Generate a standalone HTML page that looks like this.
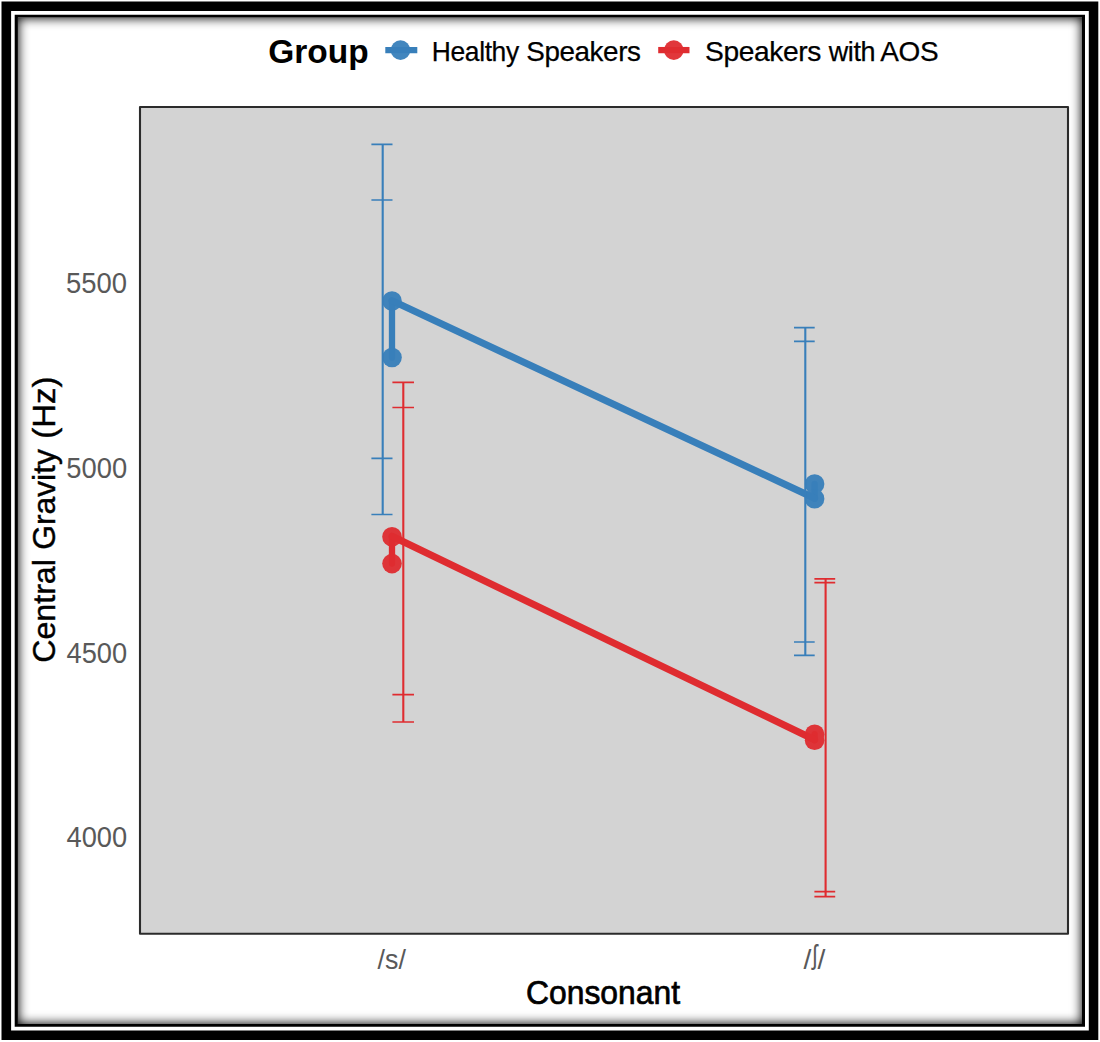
<!DOCTYPE html>
<html>
<head>
<meta charset="utf-8">
<title>Central Gravity by Consonant and Group</title>
<style>
  html, body { margin: 0; padding: 0; background: #fff; }
  body { width: 1100px; height: 1042px; position: relative; overflow: hidden;
         font-family: "Liberation Sans", sans-serif; }
  svg { position: absolute; left: 0; top: 0; }
  text { font-family: "Liberation Sans", sans-serif; }
</style>
</head>
<body>
<svg width="1100" height="1042" viewBox="0 0 1100 1042">
  <defs>
    <filter id="blur" x="-5%" y="-5%" width="110%" height="110%"><feGaussianBlur stdDeviation="5.5"/></filter>
    <clipPath id="innerclip"><rect x="17.9" y="17.6" width="1064.1" height="1006.4"/></clipPath>
  </defs>
  <!-- decorative frame -->
  <g clip-path="url(#innerclip)">
    <path fill="#000" fill-rule="evenodd" filter="url(#blur)" d="M-40 -40H1140V1082H-40Z M18.3 18H1081.6V1023.6H18.3Z"/>
  </g>
  <path fill="#000" fill-rule="evenodd" d="M1.5 1.5H1098.3V1040H1.5Z M11.1 11H1088.8V1030.5H11.1Z"/>
  <path fill="#000" fill-rule="evenodd" d="M14.7 14.7H1085V1026.7H14.7Z M17.9 17.6H1082V1024H17.9Z"/>
  <!-- panel -->
  <rect x="140" y="107" width="928" height="826.8" fill="#d3d3d3" stroke="#2b2b2b" stroke-width="2.1" stroke-linejoin="round"/>

  <!-- lines -->
  <g fill="none" stroke-linecap="round">
    <path stroke="#387fba" stroke-width="6.3" d="M392 357.5V301 M814.6 498.8V484"/>
    <path stroke="#387fba" stroke-width="7.1" d="M392 300.6L814.6 498.3"/>
    <path stroke="#df2c30" stroke-width="6.3" d="M392 563.6V536.7 M814.6 740.2V734.2"/>
    <path stroke="#df2c30" stroke-width="7.1" d="M392 536.3L814.6 739.7"/>
  </g>
  <!-- points -->
  <g opacity="0.95">
    <circle cx="392" cy="301" r="9.8" fill="#387fba"/>
    <circle cx="392" cy="357.5" r="9.8" fill="#387fba"/>
    <circle cx="814.6" cy="484" r="9.8" fill="#387fba"/>
    <circle cx="814.6" cy="498.8" r="9.8" fill="#387fba"/>
    <circle cx="392" cy="536.7" r="9.8" fill="#df2c30"/>
    <circle cx="392" cy="563.6" r="9.8" fill="#df2c30"/>
    <circle cx="814.6" cy="734.2" r="9.8" fill="#df2c30"/>
    <circle cx="814.6" cy="740.2" r="9.8" fill="#df2c30"/>
  </g>
  <!-- error bars -->
  <g stroke="#387fba" fill="none">
    <path stroke-width="2.1" d="M382.7 144.5V514.5 M805.3 327.7V655.3"/>
    <path stroke-width="1.7" d="M371.4 144.4H392.5 M371.4 200H392.5 M371.4 458.4H392.5 M371.4 514.5H392.5 M794 327.7H814.7 M794 341.3H814.7 M794 642H814.7 M794 655.3H814.7"/>
  </g>
  <g stroke="#df2c30" fill="none">
    <path stroke-width="2.1" d="M403.3 382.6V722 M825.6 578.9V896.7"/>
    <path stroke-width="1.7" d="M392.4 382.4H414 M392.4 407.5H414 M392.4 694.7H414 M392.4 722H414 M814.4 578.9H835.2 M814.4 582.7H835.2 M814.4 891.6H835.2 M814.4 896.7H835.2"/>
  </g>

  <!-- y axis tick labels -->
  <g font-size="30.4" fill="#595959">
    <text id="t5500" x="66.1" y="293.2" textLength="61.0" lengthAdjust="spacingAndGlyphs">5500</text>
    <text id="t5000" x="66.3" y="478.2" textLength="60.8" lengthAdjust="spacingAndGlyphs">5000</text>
    <text id="t4500" x="66.5" y="662.7" textLength="60.6" lengthAdjust="spacingAndGlyphs">4500</text>
    <text id="t4000" x="66.5" y="847.1" textLength="60.6" lengthAdjust="spacingAndGlyphs">4000</text>
  </g>
  <!-- x axis tick labels -->
  <g font-size="28.3" fill="#595959">
    <text id="xs" x="377.6" y="968.5" textLength="28.3" lengthAdjust="spacingAndGlyphs">/s/</text>
    <text y="968.5"><tspan x="803.6">/</tspan><tspan x="812.5" dy="-4.7" textLength="4.7" lengthAdjust="spacingAndGlyphs">ʃ</tspan><tspan x="817.5" dy="4.7">/</tspan></text>
  </g>
  <!-- axis titles -->
  <text id="cons" x="526.05" y="1004.2" font-size="33.8" fill="#000" stroke="#000" stroke-width="0.7" textLength="154.0" lengthAdjust="spacingAndGlyphs">Consonant</text>
  <g font-size="30.7" fill="#000" stroke="#000" stroke-width="0.4">
    <text transform="translate(55.2,662.75) rotate(-90)" textLength="103.65" lengthAdjust="spacingAndGlyphs">Central</text>
    <text transform="translate(55.2,549.84) rotate(-90)" textLength="100.76" lengthAdjust="spacingAndGlyphs">Gravity</text>
    <text transform="translate(55.2,438.7) rotate(-90)" textLength="62.08" lengthAdjust="spacingAndGlyphs">(Hz)</text>
  </g>

  <!-- legend -->
  <text id="grp" x="268.3" y="63.1" font-size="33" font-weight="bold" fill="#000" textLength="100.3" lengthAdjust="spacingAndGlyphs">Group</text>
  <line x1="385.3" y1="50.1" x2="417.3" y2="50.1" stroke="#387fba" stroke-width="6.3"/>
  <circle cx="400.5" cy="50.1" r="9.8" fill="#387fba" opacity="0.95"/>
  <g font-size="28.3" fill="#000" stroke="#000" stroke-width="0.25" letter-spacing="-0.4">
    <text id="lg1" x="431.79" y="61.45" textLength="86.99" lengthAdjust="spacingAndGlyphs">Healthy</text>
    <text id="lg2" x="526.26" y="61.45" textLength="114.30" lengthAdjust="spacingAndGlyphs">Speakers</text>
    <text id="lg3" x="705.04" y="61.45" textLength="115.92" lengthAdjust="spacingAndGlyphs">Speakers</text>
    <text id="lg4" x="828.70" y="61.45" textLength="46.47" lengthAdjust="spacingAndGlyphs">with</text>
    <text id="lg5" x="880.31" y="61.45" textLength="57.88" lengthAdjust="spacingAndGlyphs">AOS</text>
  </g>
  <line x1="658.2" y1="50.1" x2="689.5" y2="50.1" stroke="#df2c30" stroke-width="6.3"/>
  <circle cx="673.8" cy="50.1" r="9.8" fill="#df2c30" opacity="0.95"/>
</svg>
</body>
</html>
